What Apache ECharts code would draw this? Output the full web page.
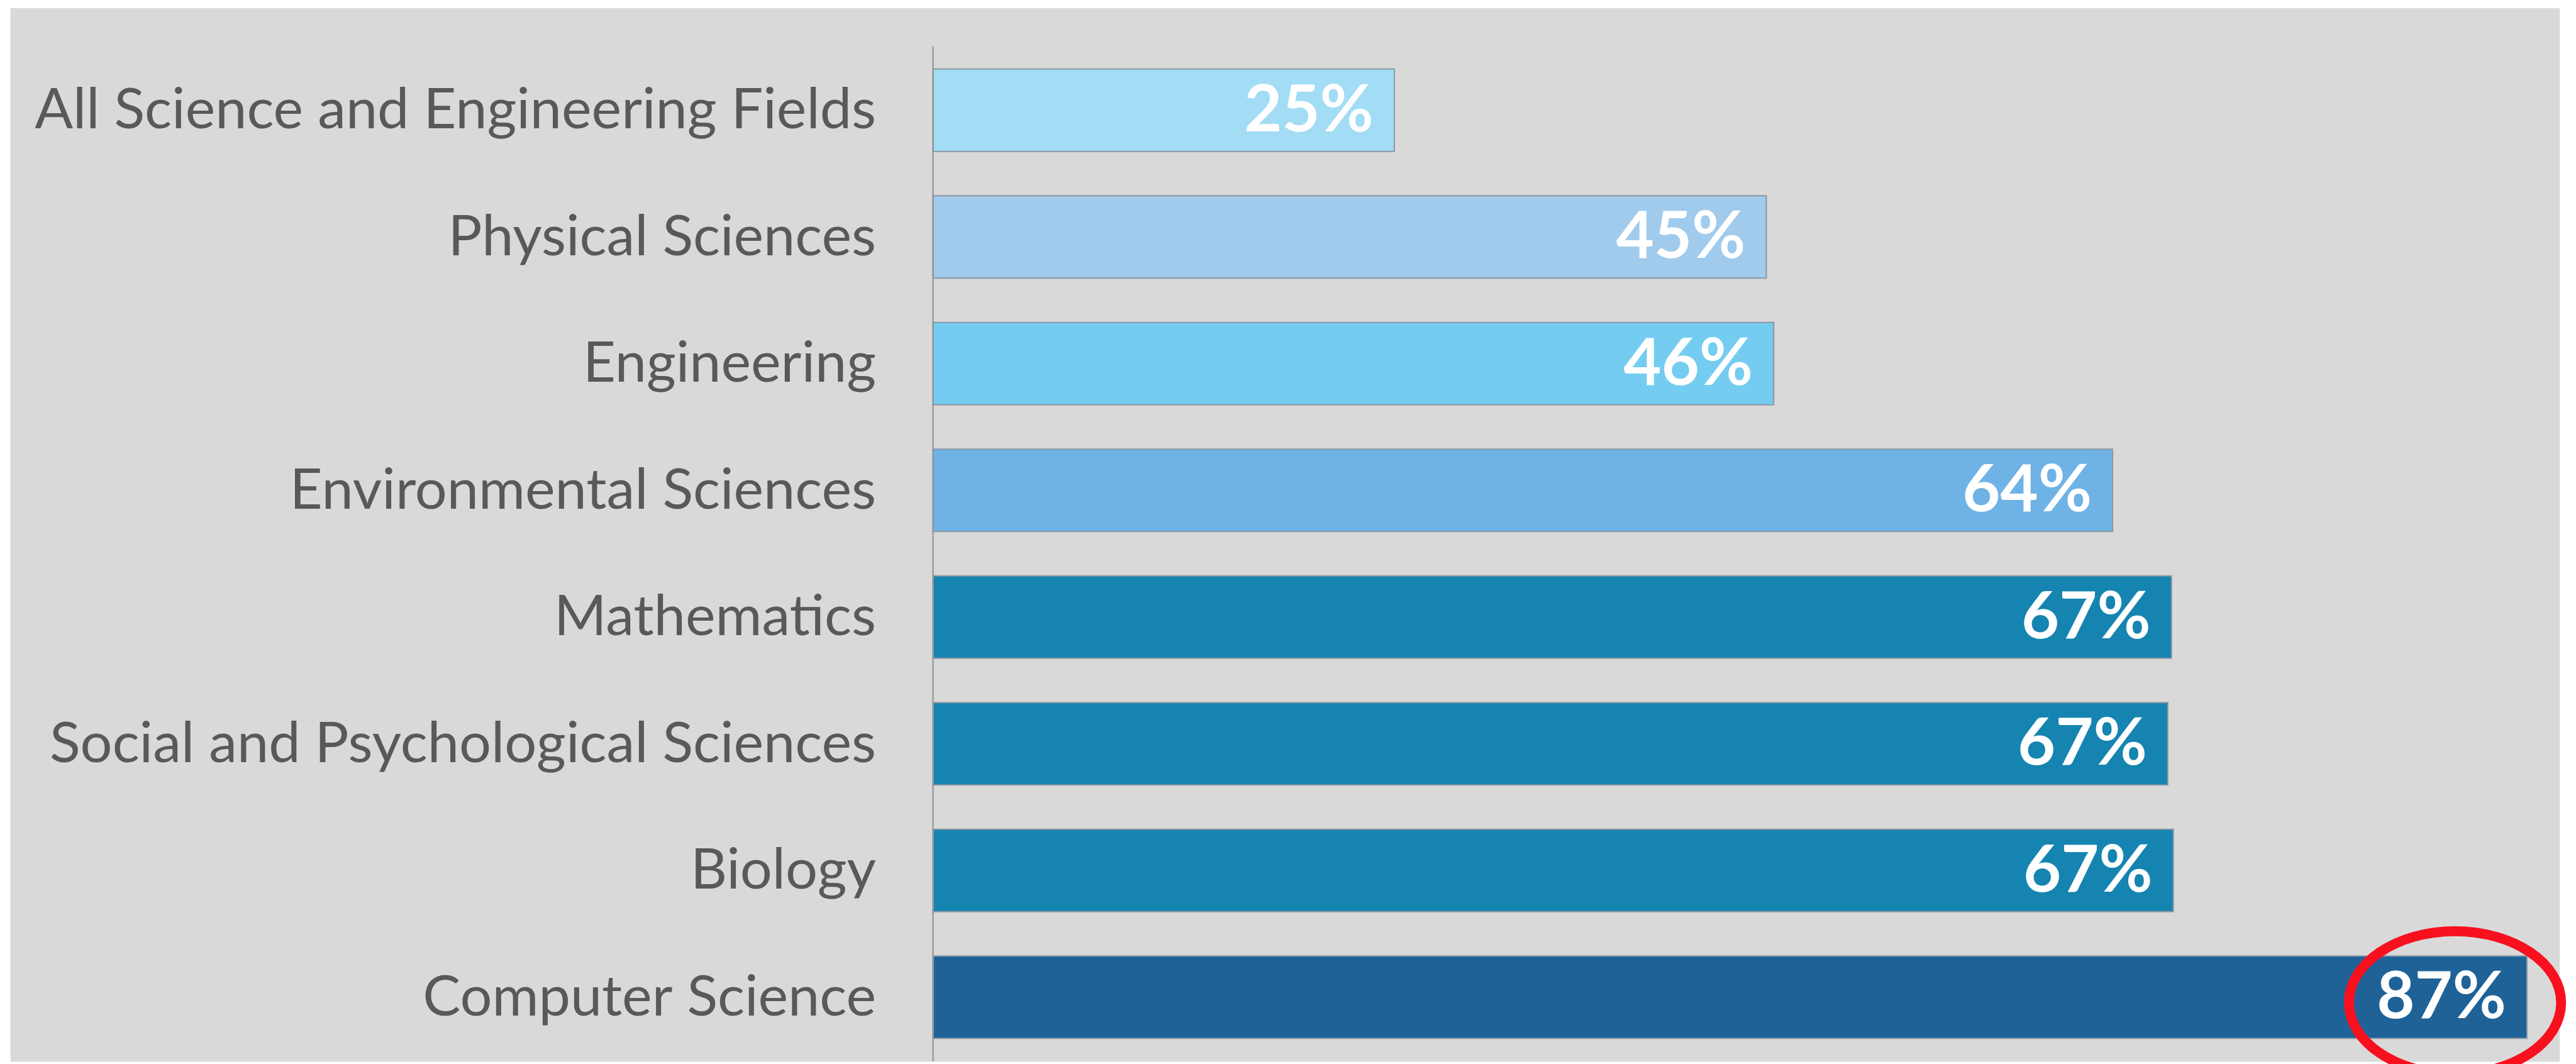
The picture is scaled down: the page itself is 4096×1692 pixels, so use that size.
<!DOCTYPE html>
<html>
<head>
<meta charset="utf-8">
<script src="https://cdn.jsdelivr.net/npm/echarts@6/dist/echarts.min.js"></script>
<style>
  html, body { margin: 0; padding: 0; background: #ffffff; }
  #chart { width: 4096px; height: 1692px; }
</style>
</head>
<body>
<div id="chart"></div>
<script>
// ---- data ----
const categories = [
  'All Science and Engineering Fields',
  'Physical Sciences',
  'Engineering',
  'Environmental Sciences',
  'Mathematics',
  'Social and Psychological Sciences',
  'Biology',
  'Computer Science'
];
const values = [25.1, 45.3, 45.7, 64.1, 67.3, 67.1, 67.4, 86.6];
const barColors = ['#A2DCF5', '#A1CBEC', '#74CDF0', '#6FB3E6', '#1584B0', '#1584B0', '#1584B0', '#1E6298'];
const highlightIndex = 7;
const axisMax = 88;

// ---- chart ----
const S = 0.874;
const chart = echarts.init(document.getElementById('chart'), null, { renderer: 'canvas' });

const grid = { left: 1483, top: 74.5, width: 2577, height: 1612 };
const bgRect = {
  type: 'rect',
  z: -10,
  silent: true,
  shape: { x: 19 * S, y: 15 * S, width: (4657 - 19) * S, height: (1932 - 15) * S },
  style: { fill: '#D9D9D9' }
};

const option = {
  animation: false,
  backgroundColor: '#ffffff',
  grid: grid,
  xAxis: {
    type: 'value', min: 0, max: axisMax,
    show: false,
    splitLine: { show: false }
  },
  yAxis: {
    type: 'category',
    data: categories,
    inverse: true,
    axisLine: { show: true, lineStyle: { color: '#A6A6A6', width: 3 } },
    axisTick: { show: false },
    axisLabel: {
      margin: 90,
      fontFamily: 'Lato',
      fontSize: 90,
      color: '#595959'
    }
  },
  series: [{
    type: 'bar',
    data: values.map((v, i) => ({ value: v, itemStyle: { color: barColors[i] } })),
    barWidth: 133,
    itemStyle: { borderColor: '#8C97A2', borderWidth: 2 },
    label: {
      show: true,
      position: 'insideRight',
      distance: 34,
      fontFamily: 'Lato',
      fontWeight: 'bold',
      fontSize: 104,
      color: '#ffffff',
      formatter: p => Math.round(p.value) + '%'
    },
    z: 3
  }],
  graphic: [bgRect]
};
chart.setOption(option);

// red highlight ellipse around the Computer Science label, placed from the bar's end
const endPt = chart.convertToPixel({ gridIndex: 0 }, [values[highlightIndex], highlightIndex]);
chart.setOption({
  graphic: [bgRect, {
    type: 'ellipse',
    z: 100,
    silent: true,
    shape: { cx: endPt[0] - 132 * S, cy: endPt[1] + 10 * S, rx: 193 * S, ry: 130 * S },
    style: { fill: 'none', stroke: '#F8101E', lineWidth: 18 * S }
  }]
});
</script>
</body>
</html>
